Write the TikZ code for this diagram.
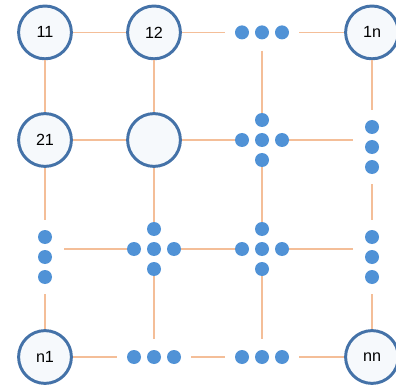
\documentclass[tikz,border=0pt]{standalone}
\usepackage{fontspec}
\setmainfont{Liberation Sans}
\usepackage{tikz}
\usetikzlibrary{calc}

\definecolor{rimblue}{RGB}{68,114,168}
\definecolor{dotblue}{RGB}{80,146,214}
\definecolor{linkorange}{RGB}{244,190,152}
\definecolor{cellfill}{RGB}{246,249,252}

\begin{document}
\begin{tikzpicture}[
    cell/.style={circle, draw=rimblue, line width=2.1pt, fill=cellfill,
      minimum size=1.32cm, inner sep=0pt, font=\fontsize{11.5}{13}\selectfont},
    hdots/.style={minimum width=1.85cm, minimum height=0.9cm, inner sep=0pt},
    vdots/.style={minimum width=0.95cm, minimum height=1.85cm, inner sep=0pt},
    cross/.style={minimum size=1.35cm, inner sep=0pt},
    link/.style={draw=linkorange, line width=0.9pt},
    dot/.style={fill=dotblue}
  ]

  \useasboundingbox (0,0) rectangle (9.9,9.75);

  % corner and named cells
  \node[cell] (A11) at (1.125,8.94) {11};
  \node[cell] (A12) at (3.85,8.94) {12};
  \node[cell] (A1n) at (9.3,8.94) {1n};
  \node[cell] (A21) at (1.125,6.25) {21};
  \node[cell] (A22) at (3.85,6.25) {};
  \node[cell] (An1) at (1.125,0.825) {n1};
  \node[cell] (Ann) at (9.3,0.825) {nn};

  % groups of dots
  \node[hdots] (H13) at (6.55,8.94) {};
  \node[hdots] (H42) at (3.85,0.825) {};
  \node[hdots] (H43) at (6.55,0.825) {};
  \node[vdots] (V24) at (9.3,6.075) {};
  \node[vdots] (V31) at (1.125,3.325) {};
  \node[vdots] (V34) at (9.3,3.325) {};
  \node[cross] (C23) at (6.55,6.25) {};
  \node[cross] (C32) at (3.85,3.525) {};
  \node[cross] (C33) at (6.55,3.525) {};

  % rows
  \draw[link] (A11) -- (A12) -- (H13) -- (A1n);
  \draw[link] (A21) -- (A22) -- (C23) -- (C23 -| V24.west);
  \draw[link] (C32 -| V31.east) -- (C32) -- (C33) -- (C33 -| V34.west);
  \draw[link] (An1) -- (H42) -- (H43) -- (Ann);

  % columns
  \draw[link] (A11) -- (A21) -- (V31) -- (An1);
  \draw[link] (A12) -- (A22) -- (C32) -- (H42);
  \draw[link] (H13) -- (C23) -- (C33) -- (H43);
  \draw[link] (A1n) -- (V24) -- (V34) -- (Ann);

  % the dots
  \foreach \g in {H13,H42,H43}
    \foreach \d in {-0.5,0,0.5}
      \fill[dot] ($(\g)+(\d,0)$) circle (0.175);
  \foreach \g in {V24,V31,V34}
    \foreach \d in {-0.5,0,0.5}
      \fill[dot] ($(\g)+(0,\d)$) circle (0.175);
  \foreach \g in {C23,C32,C33}{
    \foreach \d in {-0.5,0,0.5}
      \fill[dot] ($(\g)+(\d,0)$) circle (0.175);
    \fill[dot] ($(\g)+(0,0.5)$) circle (0.175);
    \fill[dot] ($(\g)+(0,-0.5)$) circle (0.175);
  }
\end{tikzpicture}
\end{document}
